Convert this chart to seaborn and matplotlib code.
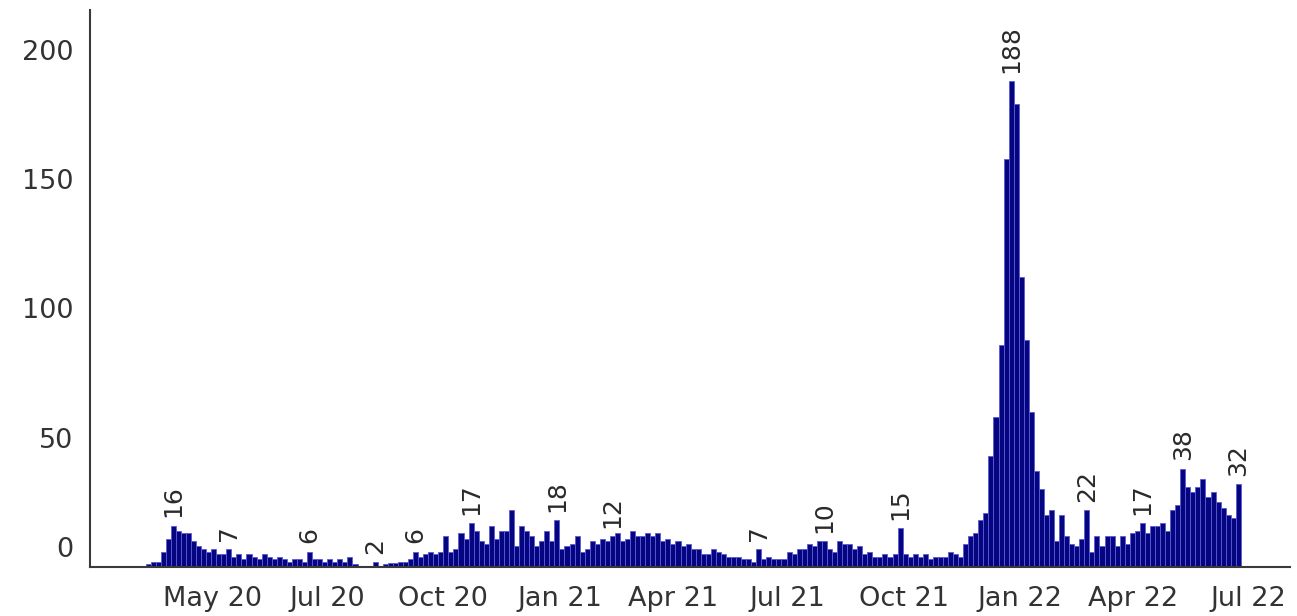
import pandas as pd
import seaborn as sns
import matplotlib.pyplot as plt
from matplotlib.transforms import ScaledTranslation

# daily counts, grouped in 4 day bins
start = "2020-02-10"
bin_days = 4
values = [
    1, 2, 2, 6, 11, 16, 14, 13, 13, 10,
    8, 7, 6, 7, 5, 5, 7, 4, 5, 3,
    5, 4, 3, 5, 4, 3, 4, 3, 2, 3,
    3, 2, 6, 3, 3, 2, 3, 2, 3, 2,
    4, 1, 0.5, 0.5, 0.5, 2, 0.5, 1, 1.5, 1.5,
    2, 2, 3, 6, 4, 5, 6, 5, 6, 12,
    6, 7, 13, 11, 17, 14, 10, 9, 16, 11,
    14, 14, 22, 8, 16, 14, 12, 8, 10, 14,
    10, 18, 7, 8, 9, 12, 6, 7, 10, 9,
    11, 10, 12, 13, 10, 11, 14, 12, 12, 13,
    12, 13, 10, 11, 9, 10, 8, 9, 7, 7,
    5, 5, 7, 6, 5, 4, 4, 4, 3, 3,
    2, 7, 3, 4, 3, 3, 3, 6, 5, 7,
    7, 9, 8, 10, 10, 7, 6, 10, 9, 9,
    7, 8, 5, 6, 4, 4, 5, 4, 5, 15,
    5, 4, 5, 4, 5, 3, 4, 4, 4, 6,
    5, 4, 9, 12, 13, 18, 21, 43, 58, 86,
    158, 188, 179, 112, 88, 60, 37, 30, 20, 22,
    10, 20, 12, 9, 8, 11, 22, 6, 12, 8,
    12, 12, 8, 12, 9, 13, 14, 17, 13, 16,
    16, 17, 14, 22, 24, 38, 31, 29, 31, 34,
    27, 29, 25, 23, 20, 19, 32,
]
labelled = [5, 16, 32, 45, 53, 64, 81, 92, 121, 134, 149, 171, 186, 197, 205, 216]

tick_dates = ["2020-04-01", "2020-07-01", "2020-10-01", "2021-01-01", "2021-04-01",
              "2021-07-01", "2021-10-01", "2022-01-01", "2022-04-01", "2022-07-01"]
tick_labels = ["May 20", "Jul 20", "Oct 20", "Jan 21", "Apr 21",
               "Jul 21", "Oct 21", "Jan 22", "Apr 22", "Jul 22"]

epoch = pd.Timestamp("2020-02-08")
dates = pd.date_range(start, periods=len(values), freq=f"{bin_days}D")
df = pd.DataFrame({"day": (dates - epoch).days, "count": values})

sns.set_style("white")
plt.rcParams["font.family"] = ["DejaVu Sans"]

fig = plt.figure(figsize=(12.97, 6.16), dpi=100)
ax = fig.add_axes([0.0694, 0.0795, 0.9252, 0.9045])

sns.barplot(df, x="day", y="count", native_scale=True, width=1, color="#050580",
            edgecolor="#5a5ad8", linewidth=0.6, saturation=1, errorbar=None, ax=ax)

for i in labelled:
    v = values[i]
    ax.annotate(str(int(v)), (df["day"][i], v), xytext=(0, 6), textcoords="offset points",
                rotation=90, ha="center", va="bottom", fontsize=18, color="#2a2a2a")

ax.set_xlim((pd.Timestamp("2019-12-26") - epoch).days, (pd.Timestamp("2022-08-03") - epoch).days)
ax.set_ylim(0, 215.5)
ax.set_xticks([(pd.Timestamp(d) - epoch).days for d in tick_dates])
ax.set_xticklabels(tick_labels)
ax.set_yticks([0, 50, 100, 150, 200])
ax.tick_params(length=0, labelsize=19.5, labelcolor="#333333")
ax.tick_params(axis="y", pad=12)
ax.tick_params(axis="x", pad=14)
ax.set_xlabel("")
ax.set_ylabel("")

for s in ["top", "right"]:
    ax.spines[s].set_visible(False)
for s in ["left", "bottom"]:
    ax.spines[s].set_color("#3a3a3a")
    ax.spines[s].set_linewidth(1.5)

# the zero label sits a bit higher than its tick
zero = ax.get_yticklabels()[0]
zero.set_transform(zero.get_transform() + ScaledTranslation(0, 20 / 100, fig.dpi_scale_trans))

plt.savefig("out.png", dpi=100)
